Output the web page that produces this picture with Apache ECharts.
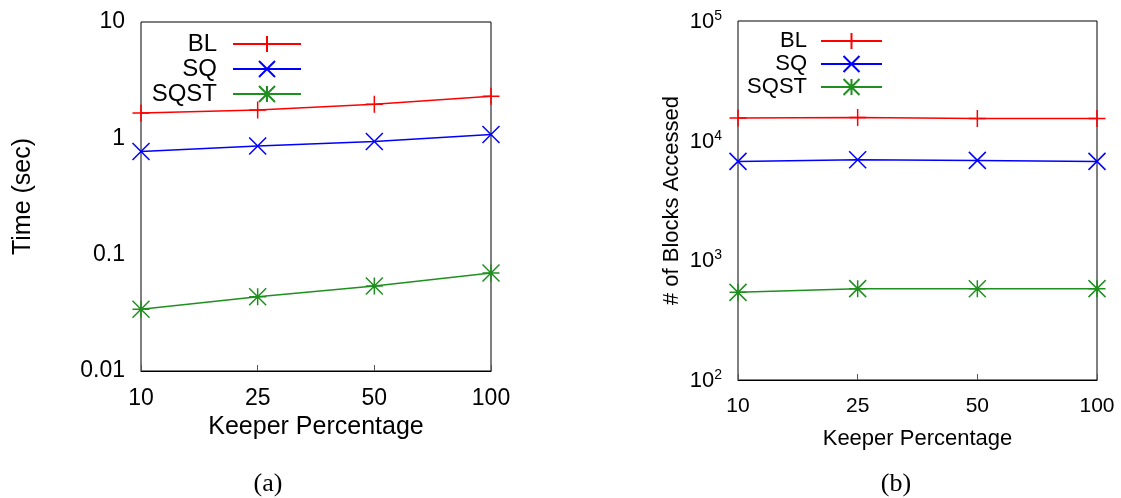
<!DOCTYPE html>
<html>
<head>
<meta charset="utf-8">
<title>Keeper Percentage</title>
<script src="https://cdn.jsdelivr.net/npm/echarts@6/dist/echarts.min.js"></script>
<style>
  html, body { margin: 0; padding: 0; background: #fff; }
  #chart { width: 1121px; height: 498px; }
</style>
</head>
<body>
<div id="chart"></div>
<script>
// Keeper percentages on the x axis of both panels
const categories = ['10', '25', '50', '100'];

// (a) query time in seconds
const timeBL   = [1.65, 1.75, 1.96, 2.30];
const timeSQ   = [0.77, 0.86, 0.94, 1.08];
const timeSQST = [0.034, 0.0435, 0.0537, 0.0695];

// (b) number of blocks accessed
const blocksBL   = [15500, 15600, 15300, 15300];
const blocksSQ   = [6710, 6930, 6840, 6710];
const blocksSQST = [540, 580, 578, 580];

// tick labels
const timeTickLabels = ['0.01', '0.1', '1', '10'];
const blockTickExponents = ['2', '3', '4', '5'];

const seriesNames = ['BL', 'SQ', 'SQST'];
const colors = { BL: '#ff0000', SQ: '#0000ff', SQST: '#1f8f1f' };
const symbols = {
  BL: 'path://M0,-1L0,1M-1,0L1,0',
  SQ: 'path://M-1,-1L1,1M-1,1L1,-1',
  SQST: 'path://M-1,-1L1,1M-1,1L1,-1M0,-1L0,1M-1,0L1,0'
};

const FONT = '"Liberation Sans", Arial, sans-serif';
const SERIF = '"Liberation Serif", "Times New Roman", serif';

function lineSeries(name, data, idx) {
  return {
    name: name,
    type: 'line',
    xAxisIndex: idx,
    yAxisIndex: idx,
    data: data,
    symbol: symbols[name],
    symbolSize: 17,
    showSymbol: true,
    clip: false,
    lineStyle: { color: colors[name], width: 1.5 },
    itemStyle: { color: colors[name], borderColor: colors[name], borderWidth: 1.5 },
    emphasis: { disabled: true },
    animation: false
  };
}

function xAxisFor(idx, fontSize, nameSize, nameGap) {
  return {
    type: 'category',
    gridIndex: idx,
    data: categories,
    boundaryGap: false,
    name: 'Keeper Percentage',
    nameLocation: 'middle',
    nameGap: nameGap,
    nameTextStyle: { fontFamily: FONT, fontSize: nameSize, color: '#000', verticalAlign: 'top' },
    axisLine: { lineStyle: { color: '#000', width: 1 } },
    axisTick: { inside: true, length: 6, lineStyle: { color: '#555' } },
    axisLabel: { fontFamily: FONT, fontSize: fontSize, color: '#000', margin: 16 },
    splitLine: { show: false }
  };
}

function legendFor(names, left, top, itemWidth, fontSize, textWidth, gapRight, itemGap) {
  return {
    data: names,
    orient: 'vertical',
    align: 'right',
    left: left,
    top: top,
    itemWidth: itemWidth,
    itemHeight: 20,
    itemGap: itemGap,
    selectedMode: false,
    formatter: n => '{t|' + n.trim() + '}',
    textStyle: {
      fontFamily: FONT, fontSize: fontSize, color: '#000',
      rich: {
        t: { fontFamily: FONT, fontSize: fontSize, width: textWidth, align: 'right',
             lineHeight: 20, padding: [0, gapRight, 0, 0] }
      }
    }
  };
}

const chart = echarts.init(document.getElementById('chart'), null, { renderer: 'canvas' });

chart.setOption({
  animation: false,
  backgroundColor: '#fff',
  title: [
    { text: '(a)', left: 263, top: 466, textAlign: 'center',
      textStyle: { fontFamily: SERIF, fontSize: 26, fontWeight: 'normal', color: '#000' } },
    { text: '(b)', left: 891, top: 466, textAlign: 'center',
      textStyle: { fontFamily: SERIF, fontSize: 26, fontWeight: 'normal', color: '#000' } }
  ],
  grid: [
    { left: 141, right: 630, top: 22, bottom: 127, show: true, borderColor: '#000', borderWidth: 1 },
    { left: 738, right: 24, top: 21, bottom: 118, show: true, borderColor: '#000', borderWidth: 1 }
  ],
  legend: [
    legendFor(seriesNames, 140, 27, 68, 24, 72, 11, 1),
    legendFor(seriesNames.map(n => n + ' '), 733, 25, 61, 22, 69, 9, 1)
  ],
  xAxis: [
    xAxisFor(0, 23, 25, 42),
    xAxisFor(1, 21, 22, 48)
  ],
  yAxis: [
    {
      type: 'log',
      gridIndex: 0,
      logBase: 10,
      min: 0.01,
      max: 10,
      name: 'Time (sec)',
      nameLocation: 'middle',
      nameGap: 105,
      nameTextStyle: { fontFamily: FONT, fontSize: 25, color: '#000' },
      axisLine: { lineStyle: { color: '#000', width: 1 } },
      axisTick: { inside: true, length: 6, lineStyle: { color: '#555' } },
      minorTick: { show: false },
      axisLabel: {
        fontFamily: FONT, fontSize: 23, color: '#000', margin: 16,
        formatter: v => timeTickLabels[Math.round(Math.log10(v)) + 2]
      },
      splitLine: { show: false }
    },
    {
      type: 'log',
      gridIndex: 1,
      logBase: 10,
      min: 100,
      max: 100000,
      name: '# of Blocks Accessed',
      nameLocation: 'middle',
      nameGap: 55,
      nameTextStyle: { fontFamily: FONT, fontSize: 22, color: '#000' },
      axisLine: { lineStyle: { color: '#000', width: 1 } },
      axisTick: { inside: true, length: 6, lineStyle: { color: '#555' } },
      minorTick: { show: false },
      axisLabel: {
        fontFamily: FONT, fontSize: 22, color: '#000', margin: 16,
        formatter: v => '{b|10}{s|' + blockTickExponents[Math.round(Math.log10(v)) - 2] + '}',
        rich: {
          b: { fontFamily: FONT, fontSize: 22, color: '#000', lineHeight: 24, verticalAlign: 'bottom' },
          s: { fontFamily: FONT, fontSize: 14, color: '#000', lineHeight: 24, verticalAlign: 'top', padding: [0, 0, 8, 0] }
        }
      },
      splitLine: { show: false }
    }
  ],
  series: [
    lineSeries('BL', timeBL, 0),
    lineSeries('SQ', timeSQ, 0),
    lineSeries('SQST', timeSQST, 0),
    Object.assign(lineSeries('BL', blocksBL, 1), { name: 'BL ' }),
    Object.assign(lineSeries('SQ', blocksSQ, 1), { name: 'SQ ' }),
    Object.assign(lineSeries('SQST', blocksSQST, 1), { name: 'SQST ' })
  ]
});
</script>
</body>
</html>
